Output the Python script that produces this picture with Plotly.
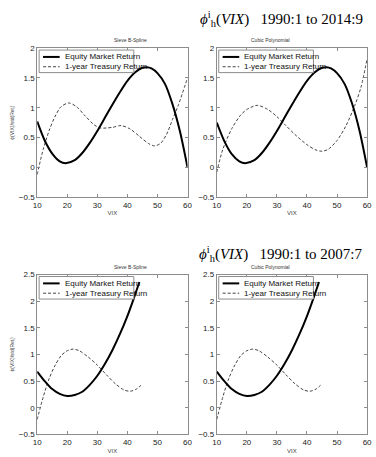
import plotly.graph_objects as go

# ---- data ----
vix_eq_full = [10, 12.5, 15, 17.5, 19.5, 22.5, 25, 27.5, 30, 32.5, 35, 37.5, 40, 42.5, 45, 46.5, 48, 50, 52.5, 55, 57.5, 60]
eq_spline_full = [0.77, 0.45, 0.23, 0.10, 0.07, 0.12, 0.24, 0.41, 0.61, 0.83, 1.05, 1.26, 1.45, 1.59, 1.67, 1.68, 1.66, 1.58, 1.40, 1.06, 0.60, 0.0]
eq_cubic_full = [0.75, 0.44, 0.22, 0.10, 0.07, 0.12, 0.24, 0.41, 0.61, 0.83, 1.05, 1.26, 1.45, 1.59, 1.67, 1.68, 1.66, 1.58, 1.40, 1.07, 0.61, 0.0]

vix_tr_full = [10, 12, 14, 16, 18, 20.5, 23, 26, 29, 31, 33, 35, 38, 41, 44, 47, 49, 51, 53, 55, 57, 60]
tr_spline_full = [-0.12, 0.30, 0.62, 0.86, 1.02, 1.08, 1.02, 0.86, 0.71, 0.66, 0.66, 0.67, 0.70, 0.64, 0.52, 0.40, 0.36, 0.40, 0.55, 0.80, 1.05, 1.50]

vix_tr_cubic_full = [10, 12, 15, 18, 20, 23.5, 27, 30, 33, 36, 40, 43, 45, 47, 50, 53, 56, 58, 60]
tr_cubic_full = [-0.08, 0.30, 0.65, 0.88, 0.97, 1.04, 0.97, 0.85, 0.70, 0.55, 0.38, 0.29, 0.27, 0.30, 0.45, 0.70, 1.05, 1.35, 1.82]

vix_eq_pre = [10, 12.5, 15, 17.5, 20, 22.5, 25, 27.5, 30, 32.5, 35, 37.5, 40, 42, 44]
eq_spline_pre = [0.68, 0.50, 0.35, 0.26, 0.22, 0.24, 0.30, 0.43, 0.60, 0.82, 1.08, 1.38, 1.72, 2.03, 2.36]
eq_cubic_pre = [0.68, 0.50, 0.35, 0.26, 0.22, 0.24, 0.30, 0.43, 0.60, 0.82, 1.08, 1.38, 1.72, 2.03, 2.36]

vix_tr_pre = [10, 12, 14, 16, 18, 20, 22, 24, 27, 30, 33, 36, 39, 41, 43, 44.5]
tr_spline_pre = [-0.22, 0.20, 0.55, 0.80, 0.98, 1.07, 1.10, 1.07, 0.95, 0.80, 0.62, 0.45, 0.33, 0.31, 0.35, 0.42]
tr_cubic_pre = [-0.22, 0.20, 0.55, 0.80, 0.98, 1.07, 1.10, 1.07, 0.95, 0.80, 0.62, 0.45, 0.33, 0.31, 0.35, 0.42]

series_names = ["Equity Market Return", "1-year Treasury Return"]
panel_titles = ["Sieve B-Spline", "Cubic Polynomial"]
big_titles = ["1990:1 to 2014:9", "1990:1 to 2007:7"]
x_ticks = [10, 20, 30, 40, 50, 60]
y_ticks_top = [-0.5, 0, 0.5, 1, 1.5, 2]
y_ticks_bot = [-0.5, 0, 0.5, 1, 1.5, 2, 2.5]

W, H = 376, 457
fig = go.Figure()

def px_x(a, b):
    return [a / W, b / W]

def px_y(top, bottom):
    return [1 - bottom / H, 1 - top / H]

panels = [
    (1, px_x(34, 188), px_y(45, 197), vix_eq_full, eq_spline_full, vix_tr_full, tr_spline_full, y_ticks_top, [-0.5, 2], True),
    (2, px_x(218, 372), px_y(45, 197), vix_eq_full, eq_cubic_full, vix_tr_cubic_full, tr_cubic_full, y_ticks_top, [-0.5, 2], False),
    (3, px_x(34, 188), px_y(276, 439), vix_eq_pre, eq_spline_pre, vix_tr_pre, tr_spline_pre, y_ticks_bot, [-0.5, 2.5], True),
    (4, px_x(218, 372), px_y(276, 439), vix_eq_pre, eq_cubic_pre, vix_tr_pre, tr_cubic_pre, y_ticks_bot, [-0.5, 2.5], False),
]

layout = {}
annotations = []
shapes = []
for idx, xd, yd, ex, ey, tx, ty, yt, yr, ylab in panels:
    xa = "x" if idx == 1 else f"x{idx}"
    ya = "y" if idx == 1 else f"y{idx}"
    fig.add_trace(go.Scatter(x=tx, y=ty, mode="lines", line=dict(color="#444444", width=1, dash="3px,2px", shape="spline", smoothing=0.8),
                             xaxis=xa, yaxis=ya, showlegend=False, hoverinfo="skip"))
    fig.add_trace(go.Scatter(x=ex, y=ey, mode="lines", line=dict(color="black", width=2, shape="spline", smoothing=0.8),
                             xaxis=xa, yaxis=ya, showlegend=False, hoverinfo="skip"))
    axstyle = dict(showgrid=False, zeroline=False, showline=True, linecolor="#8c8c8c", linewidth=1, mirror="ticks",
                   ticks="inside", ticklen=3, tickcolor="#8c8c8c", tickfont=dict(family="Liberation Sans", size=8, color="#222"))
    layout["xaxis" if idx == 1 else f"xaxis{idx}"] = dict(domain=xd, range=[10, 60], tickvals=x_ticks, anchor=ya,
        title=dict(text="VIX", font=dict(family="Liberation Sans", size=6, color="#444"), standoff=2), **axstyle)
    ydict = dict(domain=yd, range=yr, tickvals=yt, anchor=xa, **axstyle)
    if ylab:
        ydict["title"] = dict(text="ϕ(VIX)/std(Ret<sub>i</sub>)", font=dict(family="Liberation Sans", size=5, color="#444"), standoff=4)
    layout["yaxis" if idx == 1 else f"yaxis{idx}"] = ydict
    col = 0 if idx in (1, 3) else 1
    annotations.append(dict(text=panel_titles[col], xref="paper", yref="paper", x=(xd[0] + xd[1]) / 2, y=yd[1],
                            yanchor="bottom", yshift=3, showarrow=False, font=dict(family="Liberation Sans", size=5, color="#333")))
    x0, x1 = 36 / W + (xd[0] - 34 / W), 133 / W + (xd[0] - 34 / W)
    ytop = yd[1] - 2 / H
    ybot = ytop - 23 / H
    shapes.append(dict(type="rect", xref="paper", yref="paper", x0=x0, x1=x1, y0=ybot, y1=ytop,
                       line=dict(color="#8c8c8c", width=1), fillcolor="white", layer="above"))
    for k, (nm, w, dsh) in enumerate([(series_names[0], 2, "solid"), (series_names[1], 1, "3px,2px")]):
        yy = ytop - (7 + 10 * k) / H
        shapes.append(dict(type="line", xref="paper", yref="paper", x0=x0 + 4 / W, x1=x0 + 21 / W, y0=yy, y1=yy,
                           line=dict(color="black" if k == 0 else "#444", width=w, dash=dsh), layer="above"))
        annotations.append(dict(text=nm, xref="paper", yref="paper", x=x0 + 24 / W, y=yy, xanchor="left", yanchor="middle",
                                showarrow=False, font=dict(family="Liberation Sans", size=8, color="#111")))

for i, t in enumerate(big_titles):
    ypix = 15 if i == 0 else 255
    annotations.append(dict(text="<i>ϕ</i><sup>i</sup><sub>h</sub>(<i>VIX</i>)   " + t, xref="paper", yref="paper",
                            x=370 / W, y=1 - ypix / H, xanchor="right", yanchor="middle", showarrow=False,
                            font=dict(family="Liberation Serif", size=15, color="black")))

fig.update_layout(width=W, height=H, margin=dict(l=0, r=0, t=0, b=0), paper_bgcolor="white", plot_bgcolor="white",
                  annotations=annotations, shapes=shapes, showlegend=False, **layout)
fig.write_html("out.html", config={"displayModeBar": False},
               post_script="document.body.style.margin='0';document.body.style.overflow='hidden';")
